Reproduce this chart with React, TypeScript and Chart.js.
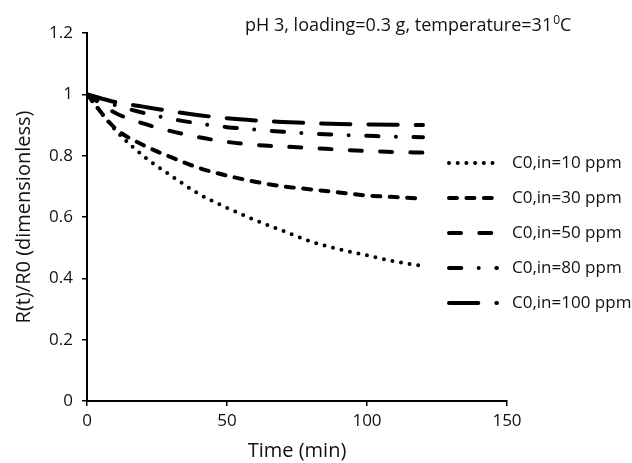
import React, { useEffect, useRef } from "react";
import { Chart, registerables } from "chart.js";

Chart.register(...registerables);

const times = [0, 10, 20, 30, 40, 50, 60, 70, 80, 90, 100, 110, 120];
const r10 = [1.0, 0.885, 0.8, 0.735, 0.675, 0.63, 0.59, 0.555, 0.52, 0.495, 0.475, 0.455, 0.44];
const r30 = [1.0, 0.89, 0.835, 0.795, 0.76, 0.735, 0.715, 0.7, 0.69, 0.68, 0.67, 0.665, 0.66];
const r50 = [1.0, 0.94, 0.905, 0.88, 0.86, 0.845, 0.835, 0.83, 0.825, 0.82, 0.815, 0.812, 0.81];
const r80 = [1.0, 0.965, 0.94, 0.92, 0.905, 0.893, 0.885, 0.878, 0.872, 0.868, 0.865, 0.862, 0.86];
const r100 = [1.0, 0.975, 0.96, 0.945, 0.932, 0.922, 0.915, 0.91, 0.906, 0.903, 0.902, 0.901, 0.9];

const seriesNames = ["C0,in=10 ppm", "C0,in=30 ppm", "C0,in=50 ppm", "C0,in=80 ppm", "C0,in=100 ppm"];
const yTicks = [0, 0.2, 0.4, 0.6, 0.8, 1, 1.2];
const yTickLabels = ["0", "0.2", "0.4", "0.6", "0.8", "1", "1.2"];
const xTicks = [0, 50, 100, 150];
const xTickLabels = ["0", "50", "100", "150"];

const titleMain = "pH 3, loading=0.3 g, temperature=31";
const titleSup = "0";
const titleEnd = "C";

const dashes = [
  [0, 8.7],
  [8, 9.4],
  [12, 18.3],
  [12.3, 17.4, 0, 17.6],
  [29.3, 18],
];

const FONT = "'Open Sans', 'Noto Sans', sans-serif";

export default function App() {
  const ref = useRef<HTMLCanvasElement | null>(null);

  useEffect(() => {
    document.body.style.margin = "0";
    const canvas = ref.current!;
    const all = [r10, r30, r50, r80, r100];
    const datasets = all.map((arr, i) => ({
      label: seriesNames[i],
      data: arr.map((v, k) => ({ x: times[k], y: v })),
      borderColor: "#000",
      backgroundColor: "#000",
      borderWidth: 4,
      borderDash: dashes[i],
      borderCapStyle: "round" as const,
      pointRadius: 0,
      fill: false,
      cubicInterpolationMode: "monotone" as const,
    }));

    const overlay = {
      id: "overlay",
      afterDraw(chart: any) {
        const ctx = chart.ctx as CanvasRenderingContext2D;
        ctx.save();
        ctx.fillStyle = "#111";
        // title
        ctx.font = `18px ${FONT}`;
        ctx.textBaseline = "middle";
        ctx.textAlign = "left";
        let x = 245;
        const ty = 26;
        ctx.fillText(titleMain, x, ty);
        x += ctx.measureText(titleMain).width + 1;
        ctx.font = `12px ${FONT}`;
        ctx.fillText(titleSup, x, ty - 5);
        x += ctx.measureText(titleSup).width;
        ctx.font = `18px ${FONT}`;
        ctx.fillText(titleEnd, x, ty);
        // legend
        const rows = [163, 198, 233, 268, 303];
        ctx.strokeStyle = "#000";
        ctx.lineWidth = 4;
        ctx.lineCap = "round";
        rows.forEach((ry, i) => {
          ctx.setLineDash(dashes[i]);
          ctx.beginPath();
          ctx.moveTo(449, ry);
          ctx.lineTo(497, ry);
          ctx.stroke();
          ctx.setLineDash([]);
          ctx.font = `17px ${FONT}`;
          ctx.fillText(seriesNames[i], 512, ry);
        });
        ctx.restore();
      },
    };

    const chart = new Chart(canvas, {
      type: "line",
      data: { datasets },
      options: {
        animation: false,
        responsive: false,
        layout: { padding: { top: 33, right: 125, left: 0, bottom: 0 } },
        plugins: { legend: { display: false }, tooltip: { enabled: false }, title: { display: false } },
        scales: {
          x: {
            type: "linear",
            min: 0,
            max: 150,
            afterBuildTicks: (s: any) => {
              s.ticks = xTicks.map((v) => ({ value: v }));
            },
            afterFit: (s: any) => {
              s.height = 62;
              s.paddingLeft = 0;
              s.paddingRight = 0;
            },
            grid: { display: true, drawOnChartArea: false, drawTicks: true, tickLength: 5, color: "#000", lineWidth: 1.5 },
            border: { display: true, color: "#000", width: 2 },
            ticks: {
              color: "#111",
              font: { family: FONT, size: 17 },
              padding: 5,
              maxRotation: 0,
              callback: (v: any) => xTickLabels[xTicks.indexOf(Number(v))] ?? "",
            },
            title: {
              display: true,
              text: "Time (min)",
              color: "#111",
              font: { family: FONT, size: 20 },
              padding: { top: 0, bottom: 0 },
            },
          },
          y: {
            type: "linear",
            min: 0,
            max: 1.2,
            afterBuildTicks: (s: any) => {
              s.ticks = yTicks.map((v) => ({ value: v }));
            },
            afterFit: (s: any) => {
              s.width = 87;
              s.paddingTop = 0;
              s.paddingBottom = 0;
            },
            grid: { display: true, drawOnChartArea: false, drawTicks: true, tickLength: 5, color: "#000", lineWidth: 1.5 },
            border: { display: true, color: "#000", width: 2 },
            ticks: {
              color: "#111",
              font: { family: FONT, size: 17 },
              padding: 9,
              callback: (v: any) => {
                const idx = yTicks.findIndex((t) => Math.abs(t - Number(v)) < 1e-9);
                return idx >= 0 ? yTickLabels[idx] : "";
              },
            },
            title: {
              display: true,
              text: "R(t)/R0 (dimensionless)",
              color: "#111",
              font: { family: FONT, size: 20 },
              padding: { top: 12, bottom: 0 },
            },
          },
        },
      },
      plugins: [overlay],
    });
    return () => chart.destroy();
  }, []);

  return (
    <div style={{ width: 632, height: 463 }}>
      <canvas ref={ref} width={632} height={463} style={{ display: "block" }} />
    </div>
  );
}
